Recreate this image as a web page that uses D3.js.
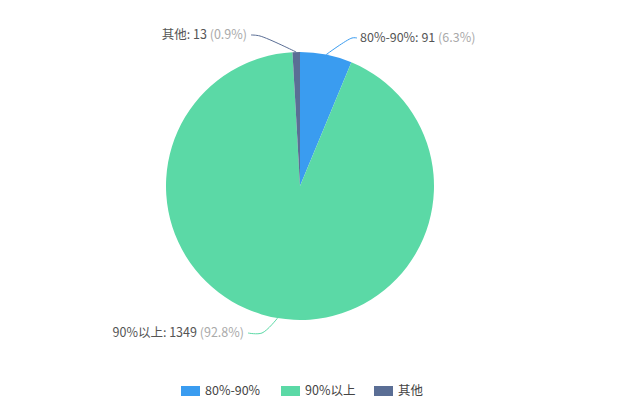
<!DOCTYPE html>
<html><head><meta charset="utf-8">
<script src="https://cdn.jsdelivr.net/npm/d3@7"></script>
<style>body{margin:0;background:#fff;} text{font-family:"Microsoft YaHei","Noto Sans CJK SC","Noto Sans",sans-serif;}</style>
</head><body>
<svg id="c" width="626" height="418"></svg>
<script>
const categories = ["80%-90%", "90%以上", "其他"];
const values = [91, 1349, 13];
const percents = ["6.3%", "92.8%", "0.9%"];
const colors = ["#3a9cf0", "#5bd9a6", "#5a6e95"];

const svg = d3.select("#c");
const cx = 300, cy = 186, R = 134;
const g = svg.append("g").attr("transform", `translate(${cx},${cy})`);

const pie = d3.pie().sort(null).value(d => d)(values);
const arc = d3.arc().innerRadius(0).outerRadius(R);

g.selectAll("path.slice").data(pie).enter().append("path")
  .attr("class","slice")
  .attr("d", arc)
  .attr("fill", (d,i) => colors[i]);

// label guide lines: outer edge -> elbow -> short horizontal
const elbows = [[[52, -148], [57, -148]], [[-38, 147], [-52, 147]], [[-40, -150], [-49, -151]]];
pie.forEach((d,i) => {
  const mid = (d.startAngle + d.endAngle)/2;
  const p0 = [Math.sin(mid)*R, -Math.cos(mid)*R];
  const [p1, p2] = elbows[i];
  const right = Math.sin(mid) >= 0;
  g.append("path")
    .attr("d", d3.line().curve(d3.curveCatmullRom)([p0, p1, p2]))
    .attr("fill","none")
    .attr("stroke", colors[i])
    .attr("stroke-width", 1);
  const t = g.append("text")
    .attr("x", right ? p2[0] + 3 : p2[0] - 4)
    .attr("y", p2[1])
    .attr("dy", "0.35em")
    .attr("text-anchor", right ? "start" : "end")
    .attr("font-size", 12.5);
  t.append("tspan").attr("fill","#555").text(`${categories[i]}: ${values[i]} `);
  t.append("tspan").attr("fill","#aaa").text(`(${percents[i]})`);
});

// legend
const legendX = [181, 281, 374];
const lg = svg.append("g");
categories.forEach((c,i) => {
  lg.append("rect").attr("x", legendX[i]).attr("y", 386).attr("width", 19).attr("height", 10).attr("fill", colors[i]);
  lg.append("text").attr("x", legendX[i] + 24).attr("y", 391).attr("dy","0.35em")
    .attr("font-size", 12.5).attr("fill", "#444").text(c);
});
</script>
</body></html>
